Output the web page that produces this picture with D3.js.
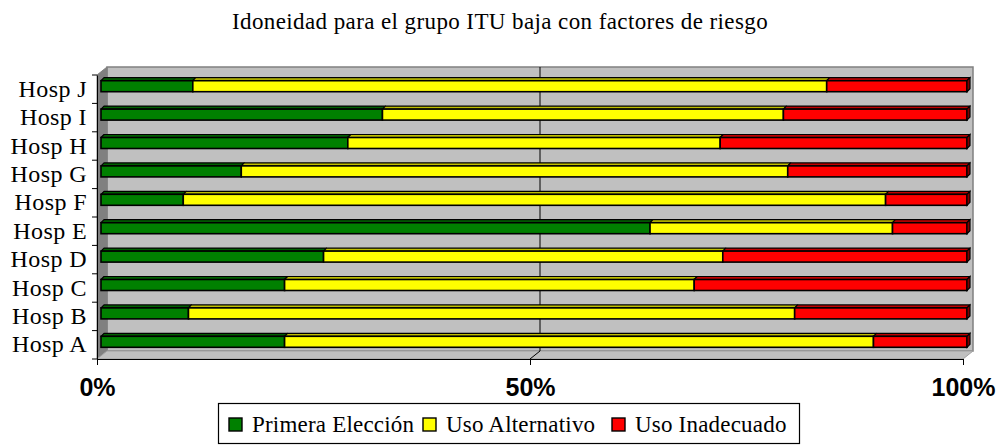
<!DOCTYPE html>
<html>
<head>
<meta charset="utf-8">
<script src="https://cdn.jsdelivr.net/npm/d3@7"></script>
<style>
  body { margin: 0; background: #fff; }
</style>
</head>
<body>
<div id="chart"></div>
<script>
const categories = ["Hosp A", "Hosp B", "Hosp C", "Hosp D", "Hosp E", "Hosp F", "Hosp G", "Hosp H", "Hosp I", "Hosp J"];
const seriesNames = ["Primera Elección", "Uso Alternativo", "Uso Inadecuado"];
const primera = [21.2, 10.1, 21.2, 25.7, 63.4, 9.5, 16.2, 28.5, 32.5, 10.6];
const alternativo = [68.0, 70.0, 47.3, 46.1, 28.0, 81.1, 63.1, 43.0, 46.3, 73.2];
const inadecuado = [10.8, 19.9, 31.5, 28.2, 8.6, 9.4, 20.7, 28.5, 21.2, 16.2];
const tickValues = [0, 0.5, 1];
const tickLabels = ["0%", "50%", "100%"];

const colors = ["#008000", "#ffff00", "#ff0000"];
const topColors = ["#006000", "#bfbf00", "#c00000"];
const sideColors = ["#004000", "#808000", "#800000"];

const W = 1002, H = 445;
const pLeft = 97, pRight = 963, pTop = 75, pBottom = 359;
const dx = 10, dy = -8;      // depth of the 3D box
const bx = 4, by = -3;        // bar front offset
const bdx = 3, bdy = -3;      // bar depth
const barH = 11;
const serif = "'Liberation Serif', 'Times New Roman', serif";

const svg = d3.select("#chart").append("svg")
  .attr("width", W).attr("height", H);

const x = d3.scaleLinear().domain([0, 1]).range([pLeft, pRight]);
const y = d3.scaleBand().domain(categories).range([pBottom, pTop]);

// title
svg.append("text")
  .attr("x", 500).attr("y", 29)
  .attr("text-anchor", "middle")
  .style("font-family", serif)
  .style("font-size", "23px")
  .style("letter-spacing", "0.4px")
  .text("Idoneidad para el grupo ITU baja con factores de riesgo");

// walls
svg.append("rect")
  .attr("x", pLeft + dx).attr("y", pTop + dy)
  .attr("width", pRight - pLeft).attr("height", pBottom - pTop)
  .attr("fill", "#c0c0c0").attr("stroke", "#808080").attr("stroke-width", 1.5);
svg.append("polygon")
  .attr("points", [[pLeft, pTop], [pLeft + dx, pTop + dy], [pLeft + dx, pBottom + dy], [pLeft, pBottom]].join(" "))
  .attr("fill", "#808080").attr("stroke", "#808080");
svg.append("polygon")
  .attr("points", [[pLeft, pBottom], [pLeft + dx, pBottom + dy], [pRight + dx, pBottom + dy], [pRight, pBottom]].join(" "))
  .attr("fill", "#c0c0c0").attr("stroke", "#a0a0a0");

// gridline at 50%
svg.append("line")
  .attr("x1", x(0.5) + dx).attr("x2", x(0.5) + dx)
  .attr("y1", pTop + dy).attr("y2", pBottom + dy)
  .attr("stroke", "#000").attr("stroke-width", 1);
svg.append("line")
  .attr("x1", x(0.5) + dx).attr("x2", x(0.5))
  .attr("y1", pBottom + dy).attr("y2", pBottom)
  .attr("stroke", "#000").attr("stroke-width", 1);

// bars
const stackData = categories.map((c, i) => {
  const vals = [primera[i], alternativo[i], inadecuado[i]];
  const tot = d3.sum(vals);
  let acc = 0;
  return vals.map((v, k) => {
    const s = acc / tot; acc += v;
    return { cat: c, k, x0: s, x1: acc / tot };
  });
});

const gBars = svg.append("g");
stackData.forEach(segs => {
  const g = gBars.append("g");
  segs.forEach(d => {
    const yc = y(d.cat) + y.bandwidth() / 2 + by;
    const y0 = yc - barH / 2, y1 = yc + barH / 2;
    const xa = x(d.x0) + bx, xb = x(d.x1) + bx;
    // top face
    g.append("polygon")
      .attr("points", [[xa, y0], [xa + bdx, y0 + bdy], [xb + bdx, y0 + bdy], [xb, y0]].join(" "))
      .attr("fill", topColors[d.k]).attr("stroke", "#000").attr("stroke-width", 1.2)
      .attr("stroke-linejoin", "round");
    // front face
    g.append("rect")
      .attr("x", xa).attr("y", y0)
      .attr("width", xb - xa).attr("height", barH)
      .attr("fill", colors[d.k]).attr("stroke", "#000").attr("stroke-width", 1.6);
    if (d.k === 2) {
      g.append("polygon")
        .attr("points", [[xb, y0], [xb + bdx, y0 + bdy], [xb + bdx, y1 + bdy], [xb, y1]].join(" "))
        .attr("fill", sideColors[d.k]).attr("stroke", "#000").attr("stroke-width", 1.2);
    }
  });
});

// axes
const yAxis = svg.append("g").attr("transform", `translate(${pLeft},0)`)
  .call(d3.axisLeft(y).tickSize(0).tickPadding(10));
yAxis.select(".domain").attr("stroke", "#000");
yAxis.selectAll("text")
  .style("font-family", serif)
  .style("font-size", "24px")
  .style("letter-spacing", "0.4px").attr("fill", "#000");
// band boundary ticks
svg.append("g").selectAll("line")
  .data(categories.concat(["_top"]))
  .join("line")
  .attr("x1", pLeft - 5).attr("x2", pLeft)
  .attr("y1", d => d === "_top" ? pTop : y(d) + y.bandwidth())
  .attr("y2", d => d === "_top" ? pTop : y(d) + y.bandwidth())
  .attr("stroke", "#000");

const xAxis = svg.append("g").attr("transform", `translate(0,${pBottom})`)
  .call(d3.axisBottom(x).tickValues(tickValues).tickSize(6).tickPadding(13)
    .tickFormat((d, i) => tickLabels[i]));
xAxis.select(".domain").attr("stroke", "#000");
xAxis.selectAll("text")
  .style("font-family", "'Liberation Sans', Arial, sans-serif")
  .style("font-weight", "bold")
  .style("font-size", "25px").attr("fill", "#000");

// legend
const lg = svg.append("g");
lg.append("rect")
  .attr("x", 218.5).attr("y", 403.5).attr("width", 581).attr("height", 40)
  .attr("fill", "#fff").attr("stroke", "#000").attr("stroke-width", 1.2);
const legendX = [229, 423, 612];
seriesNames.forEach((n, k) => {
  lg.append("rect")
    .attr("x", legendX[k]).attr("y", 418).attr("width", 13).attr("height", 13)
    .attr("fill", colors[k]).attr("stroke", "#000").attr("stroke-width", 1.4);
  lg.append("text")
    .attr("x", legendX[k] + 23).attr("y", 432)
    .style("font-family", serif)
    .style("font-size", "23px")
    .style("letter-spacing", "0.2px")
    .text(n);
});
</script>
</body>
</html>
